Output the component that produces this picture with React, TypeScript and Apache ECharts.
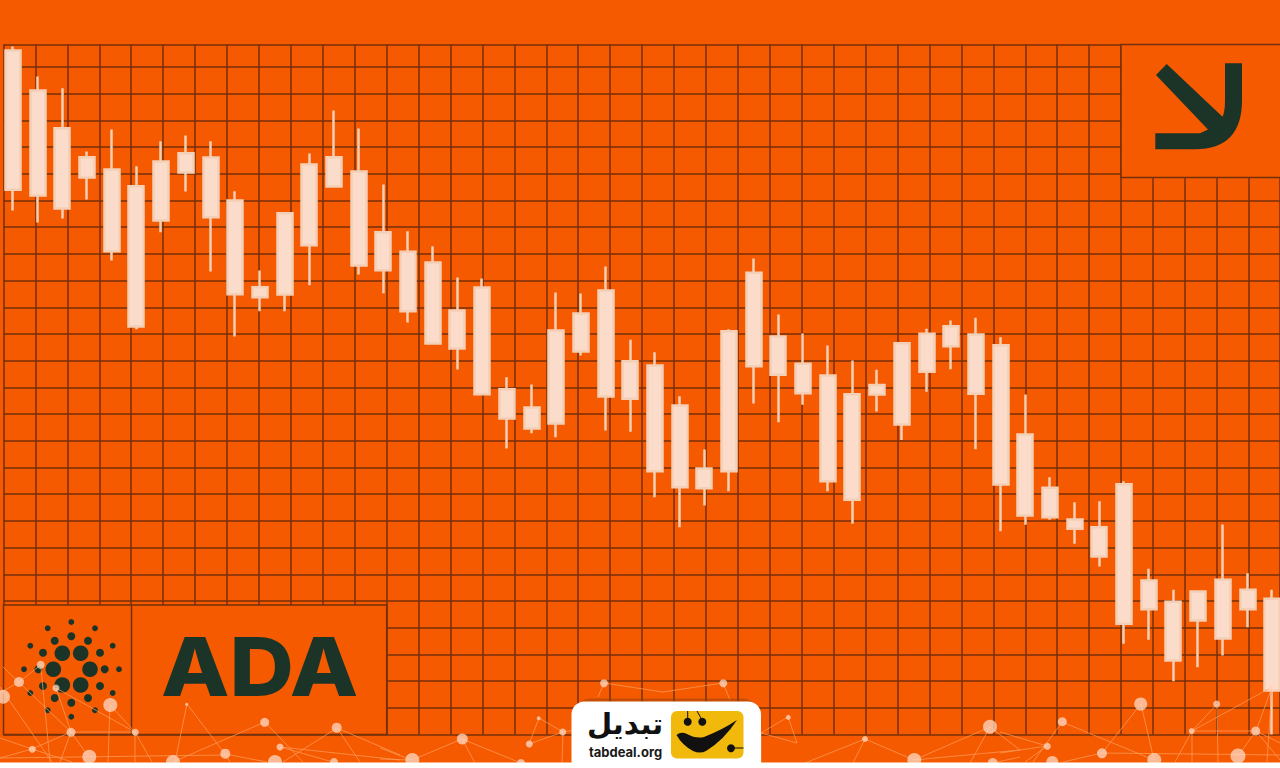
import React, { useEffect, useRef } from "react";
import * as echarts from "echarts";

// Price-like readings (axis units, bottom of the grid = 0)
const opens = [684,644,606.3,577.3,565,548.3,573,581.3,577,534,447.3,521.3,570,577.3,563,502.3,482.7,472,424,447,345.3,327,404,421,444,373.3,369,329,266,403.3,461.7,398,370.7,359,340.3,349.5,391.3,400.7,408.3,400,389.3,300,246.7,215,207.3,250.3,154,132.7,143,154.7,144.7,135.7];
const closes = [544.7,539,526,557,483.3,408,514,562,517.3,440.3,437.3,440,489.3,548,469,464.3,423.3,391,386,340.3,316,306,311,383,338,335.7,263.3,247.3,246.3,263.3,368.3,359.7,341.3,253.3,234.7,340,310,362.7,388.3,340.7,250,219,217.3,205.7,178,110.7,125.3,74,114,96,125.3,44];
const lows = [524,512,516,535,474,405.3,502.3,543,463,398,423.3,423.3,449.3,548,460,441.3,412,391,365,340.3,286,301.3,297.3,379,304,302.7,237.3,207.3,229,243.3,331,312.3,329.7,243.3,210.7,323,294.5,342.7,365.3,285.3,203.3,209.7,214.7,190.7,168,90.7,94.7,53.3,67.3,79,107.3,0];
const highs = [688,658,646.3,583,605,568.3,593.3,599,593.3,543.3,464,521.3,581,624,606,550,503.3,488.3,457,456,357.3,350,442,441,468,394.7,382.3,338.3,285,405.3,476,420,401,389,374,364.7,391.3,405.7,414,416.7,397.3,340,257.3,232.3,233.3,253.3,165.7,144.7,143,210,161.3,144.7];
const categories = opens.map((_, i) => String(i + 1));
const candleData = opens.map((o, i) => [o, closes[i], lows[i], highs[i]]);

const LINE = "#74300A";
const DARK = "#1B3427";
const BG = "#F55A00";

// Decoration: Cardano mark [x, y] dots
const innerDots = [[62.3,653.3],[80.7,653.3],[53.3,669.3],[90,669.3],[62.3,685],[80.7,685]];
const middleDots = [[71.3,636.3],[88,640.7],[100,652.7],[104.7,669.3],[100,686],[88,698],[71.3,702.7],[54.7,698],[43,686],[38.3,669.3],[43,652.7],[54.7,640.7]];
const outerDots = [[71.3,622],[95,628.3],[112.7,645.7],[119,669.3],[112.7,693],[95,710.3],[71.3,716.7],[47.7,710.3],[30.3,693],[24,669.3],[30.3,645.7],[47.7,628.3]];

// Decoration: network overlay, [x, y, r]
const netNodes = [
  [3,696.7,7],[19,682,5],[40.7,664.7,4],[56,688,3.5],[110.3,705,7],[71,732.3,4.5],[135.3,732.3,3.5],[32.3,749.3,3.5],[89.3,756.7,7],[173,762,7],[186.7,704.3,1.6],[225.3,753.7,5],[264.7,722.3,4.5],[280,747,3.5],[275,762,7],[336.7,727.7,5],[334,762,4],
  [462.3,739,5.5],[412.3,760,7],[521,763,4],[529.3,744,3.5],[538.7,718.3,2],[562.7,732,3.5],[604,683.3,4],[723.3,683.3,4],
  [788.3,717.3,2.5],[865,739,3],[914.3,760,7],[990,726.7,7],[992.7,763,5],[1140.7,704,6.5],[1062.3,721.7,4.5],[1047.3,746.3,3.5],[1102,753.3,5],[1154.3,760,7],[1052.3,762,6],[1216.7,704,3.5],[1191.7,731,3],[1255.7,731,4.5],[1238,756,7.5],[1271.7,687.3,4],
];
const netEdges = [
  [3,667,71,732],[19,682,0,693],[19,682,40.7,665],[0,687,52,762],[40.7,665,50,762],[56,688,71,732],[56,688,135.3,732.3],[110,705,135,732],[110,705,108,762],[71,732,135,732],[71,732,32,749],[32,749,0,758],[71,732,60,762],[71,732,89,757],[135,732,152,762],[135,732,135,762],[0,758,225,755],[0,738,32,749],[32,749,72,762],[187,704,175,762],[187,704,225,754],[225,754,230,762],[265,722,173,762],[265,722,303,762],[280,747,400,760],[280,747,333,762],[337,728,283,762],[337,728,360,762],[337,728,400,755],[225,754,267,762],
  [380,748,412,760],[380,759,410,760],[412,760,462,739],[462,739,521,763],[462,739,475,763],[529,744,539,718],[529,744,563,732],[539,718,563,732],[563,732,562,763],[563,732,575,730],
  [604,683,663,692],[663,692,723,683],[604,683,598,697],[723,683,730,700],[761,733,788,717],[788,717,797,743],[761,733,797,743],[761,733,761,763],
  [865,739,805,763],[865,739,853,763],[865,739,914,760],[914,760,990,727],[990,727,970,763],[990,727,1020,750],[914,760,1020,750],[993,763,1020,757],
  [1000,753,1047,746],[1000,732,1047,746],[1025,762,1047,746],[1062,722,1154,760],[1062,722,1033,762],[1141,704,1102,753],[1141,704,1154,760],[1102,753,1063,762],[1102,753,1280,755],[1192,731,1217,704],[1192,731,1256,731],[1192,731,1175,762],[1192,731,1272,687],[1217,704,1218,762],[1192,731,1192,762],[1256,731,1272,687],[1256,731,1238,756],[1256,731,1280,743],[1272,687,1267,762],[1256,731,1280,760],
];

const arrowPath = "M1155.3 133.3 L1200 133.3 L1208 129.5 L1156 75 L1166.7 64 L1222.5 116.7 Q1225 112 1225 100 L1225 63.3 L1242 63.3 L1242 100 Q1242 149.3 1195 149.3 L1155.3 149.3 Z";
const swooshPath = "M676.5 735 Q681 731 687 734 Q696 739 704 737 Q722 730 737 720 Q724 740 706 751 Q700 754 693 751 Q682 745 676.5 735 Z";
echarts.graphic.registerShape("arrowMark", echarts.graphic.extendPath(arrowPath, {}));
echarts.graphic.registerShape("swooshMark", echarts.graphic.extendPath(swooshPath, {}));

function dots(list: number[][], r: number) {
  return list.map(([cx, cy]) => ({ type: "circle", shape: { cx, cy, r }, style: { fill: DARK }, silent: true }));
}

export default function App() {
  const ref = useRef<HTMLDivElement>(null);
  useEffect(() => {
    const chart = echarts.init(ref.current!, null, { renderer: "svg" });
    const hiddenAxisParts = { axisLine: { show: false }, axisTick: { show: false }, axisLabel: { show: false } };
    const elements: any[] = [
      // boxes that interrupt the grid
      { type: "rect", shape: { x: 1121, y: 44.5, width: 170, height: 133 }, style: { fill: BG, stroke: LINE, lineWidth: 1.5 }, silent: true },
      { type: "rect", shape: { x: 3.5, y: 605, width: 383.2, height: 129.5 }, style: { fill: BG, stroke: LINE, lineWidth: 1.5 }, silent: true },
      { type: "line", shape: { x1: 131.5, y1: 605, x2: 131.5, y2: 734.5 }, style: { stroke: LINE, lineWidth: 1.5 }, silent: true },
      { type: "arrowMark", style: { fill: DARK }, silent: true },
      ...dots(innerDots, 7.8),
      ...dots(middleDots, 4),
      ...dots(outerDots, 2.9),
      {
        type: "text", x: 161, y: 667, scaleX: 1.1, silent: true,
        style: { text: "ADA", fill: DARK, fontFamily: "Inter", fontWeight: 800, fontSize: 81, textAlign: "left", textVerticalAlign: "middle" },
      },
      // network
      ...netEdges.map(([x1, y1, x2, y2]) => ({
        type: "line", shape: { x1, y1, x2, y2 }, style: { stroke: "#FF9F5E", lineWidth: 1, opacity: 0.7 }, silent: true,
      })),
      ...netNodes.map(([cx, cy, r]) => ({
        type: "circle", shape: { cx, cy, r }, style: { fill: "#FFD9C4", opacity: 0.75 }, silent: true,
      })),
      // footer strip and card
      { type: "rect", shape: { x: 0, y: 762.5, width: 1280, height: 6 }, style: { fill: "#FFFFFF" }, silent: true },
      { type: "rect", shape: { x: 576, y: 698.5, width: 181, height: 20, r: [14, 14, 0, 0] }, style: { fill: "#9A4108", opacity: 0.5 }, silent: true },
      { type: "rect", shape: { x: 571.5, y: 701.5, width: 189.5, height: 67, r: [13, 13, 0, 0] }, style: { fill: "#FFFFFF" }, silent: true },
      { type: "rect", shape: { x: 671, y: 711, width: 72.5, height: 47.5, r: 6 }, style: { fill: "#F0B90B" }, silent: true },
      { type: "swooshMark", style: { fill: "#111111" }, silent: true },
      { type: "circle", shape: { cx: 687.7, cy: 721.7, r: 4 }, style: { fill: "#111111" }, silent: true },
      { type: "circle", shape: { cx: 702.3, cy: 721.7, r: 4 }, style: { fill: "#111111" }, silent: true },
      { type: "circle", shape: { cx: 731, cy: 748.3, r: 4 }, style: { fill: "#111111" }, silent: true },
      { type: "line", shape: { x1: 687.7, y1: 711, x2: 687.7, y2: 720 }, style: { stroke: "#111111", lineWidth: 1 }, silent: true },
      { type: "line", shape: { x1: 697, y1: 711, x2: 702, y2: 720 }, style: { stroke: "#111111", lineWidth: 1 }, silent: true },
      { type: "line", shape: { x1: 731, y1: 748, x2: 743.5, y2: 748 }, style: { stroke: "#111111", lineWidth: 1 }, silent: true },
      {
        type: "text", x: 625, y: 724, silent: true,
        style: { text: "تبدیل", fill: "#111111", fontFamily: "DejaVu Sans", fontWeight: 700, fontSize: 29, textAlign: "center", textVerticalAlign: "middle" },
      },
      {
        type: "text", x: 625.5, y: 751.5, silent: true,
        style: { text: "tabdeal.org", fill: "#1A1A1A", fontFamily: "Inter", fontWeight: 700, fontSize: 13, textAlign: "center", textVerticalAlign: "middle" },
      },
    ].map((e) => ({ ...e, z: 100 }));
    chart.setOption({
      animation: false,
      backgroundColor: BG,
      grid: [
        { left: 3.5, top: 44.5, width: 1276.5, height: 690 },
        { left: 0.66, top: 44.5, width: 1283.9, height: 690 },
      ],
      xAxis: [
        { type: "value", gridIndex: 0, min: 0, max: 1276.5, interval: 31.93, ...hiddenAxisParts,
          splitLine: { show: true, lineStyle: { color: LINE, width: 1.5 } } },
        { type: "category", gridIndex: 1, data: categories, show: false },
      ],
      yAxis: [
        { type: "value", gridIndex: 0, min: 0, max: 690, interval: 26.7, ...hiddenAxisParts,
          splitLine: { show: true, lineStyle: { color: LINE, width: 1.5 } } },
        { type: "value", gridIndex: 1, min: 0, max: 690, show: false, splitLine: { show: false } },
      ],
      series: [
        {
          type: "candlestick",
          xAxisIndex: 1,
          yAxisIndex: 1,
          barWidth: 15.5,
          clip: false,
          data: candleData,
          itemStyle: { color: "#FBDCCB", color0: "#FBDCCB", borderColor: "#F4CFB5", borderColor0: "#F4CFB5", borderWidth: 2.5 },
        },
      ],
      graphic: { elements },
    });
    return () => chart.dispose();
  }, []);
  return (
    <div style={{ position: "fixed", left: 0, top: 0, width: 1280, height: 768, overflow: "hidden" }}>
      <div ref={ref} style={{ width: 1320, height: 768 }} />
    </div>
  );
}
